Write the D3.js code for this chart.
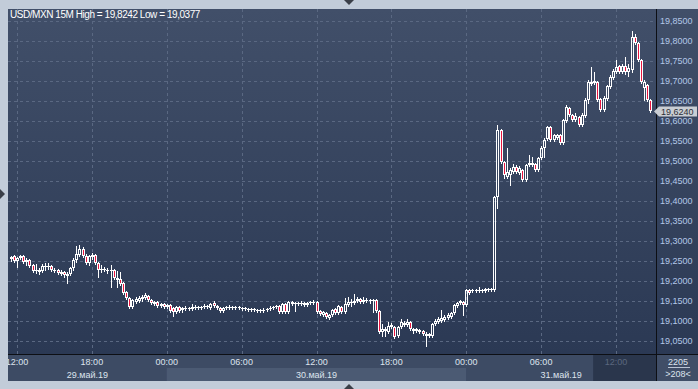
<!DOCTYPE html>
<html>
<head>
<meta charset="utf-8">
<script src="https://cdn.jsdelivr.net/npm/d3@7"></script>
<style>
    body { margin: 0; background: #c2ccd9; }
    svg { display: block; font-family: "Liberation Sans", Arial, sans-serif; }
</style>
</head>
<body>
<svg id="chart" width="698" height="389"></svg>
<script>
// 15 minute bars, first one at 29 May 2019 11:30
const startTime = new Date(2019, 4, 29, 11, 30);

const opens = [
    19.255, 19.2625, 19.25, 19.2575, 19.2625, 19.2475, 19.2525, 19.24, 19.225, 19.2225,
    19.225, 19.235, 19.235, 19.2375, 19.225, 19.2275, 19.2175, 19.2225, 19.2125, 19.2175,
    19.2325, 19.2525, 19.265, 19.28, 19.2625, 19.245, 19.26, 19.265, 19.245, 19.2275,
    19.2275, 19.225, 19.225, 19.2275, 19.2075, 19.205, 19.195, 19.1725, 19.1575, 19.135,
    19.1475, 19.15, 19.155, 19.1575, 19.1625, 19.1525, 19.1425, 19.1475, 19.1375, 19.1425,
    19.135, 19.14, 19.1325, 19.1225, 19.135, 19.1275, 19.13, 19.13, 19.13, 19.1325,
    19.1325, 19.1325, 19.135, 19.135, 19.1325, 19.145, 19.1375, 19.1325, 19.125, 19.1325,
    19.1325, 19.1325, 19.135, 19.1325, 19.1325, 19.13, 19.13, 19.1275, 19.1275, 19.1275,
    19.125, 19.125, 19.1275, 19.13, 19.1325, 19.135, 19.1375, 19.1225, 19.1425, 19.1225,
    19.1475, 19.1425, 19.1425, 19.1425, 19.145, 19.14, 19.145, 19.145, 19.1475, 19.125,
    19.115, 19.12, 19.1075, 19.115, 19.13, 19.12, 19.135, 19.1225, 19.14, 19.145,
    19.145, 19.15, 19.155, 19.1475, 19.15, 19.15, 19.15, 19.1525, 19.125, 19.0725,
    19.075, 19.0725, 19.085, 19.085, 19.0625, 19.085, 19.09, 19.09, 19.0975, 19.075,
    19.075, 19.0725, 19.075, 19.0625, 19.0625, 19.0625, 19.0925, 19.0975, 19.1, 19.1025,
    19.1075, 19.11, 19.12, 19.1375, 19.145, 19.1475, 19.14, 19.1775, 19.175, 19.175,
    19.175, 19.175, 19.175, 19.1775, 19.1775, 19.1775, 19.41, 19.5775, 19.4975, 19.46,
    19.465, 19.4725, 19.485, 19.47, 19.4775, 19.4525, 19.49, 19.49, 19.4925, 19.4775,
    19.5075, 19.5325, 19.555, 19.585, 19.5525, 19.5575, 19.565, 19.545, 19.6, 19.6325,
    19.615, 19.6025, 19.61, 19.59, 19.6125, 19.6525, 19.6925, 19.695, 19.6975, 19.655,
    19.6275, 19.655, 19.685, 19.7075, 19.7225, 19.7375, 19.7225, 19.7375, 19.7225, 19.7275,
    19.81, 19.795, 19.7525, 19.6825, 19.69, 19.6525
];

const highs = [
    19.2625, 19.265, 19.26, 19.265, 19.265, 19.2575, 19.255, 19.2425, 19.2425, 19.2325,
    19.2425, 19.245, 19.245, 19.24, 19.2325, 19.23, 19.2275, 19.225, 19.2225, 19.235,
    19.2575, 19.2875, 19.29, 19.285, 19.2675, 19.265, 19.27, 19.2675, 19.2475, 19.24,
    19.235, 19.2325, 19.24, 19.23, 19.225, 19.2225, 19.1975, 19.175, 19.16, 19.155,
    19.16, 19.1625, 19.165, 19.17, 19.165, 19.155, 19.15, 19.15, 19.145, 19.145,
    19.1425, 19.1425, 19.135, 19.1375, 19.1375, 19.135, 19.1375, 19.135, 19.1425, 19.14,
    19.1375, 19.1375, 19.1425, 19.14, 19.145, 19.15, 19.14, 19.135, 19.135, 19.1375,
    19.14, 19.1375, 19.1375, 19.1375, 19.135, 19.135, 19.1325, 19.1325, 19.1325, 19.13,
    19.13, 19.1325, 19.1325, 19.1375, 19.1375, 19.14, 19.14, 19.145, 19.145, 19.15,
    19.15, 19.1475, 19.1475, 19.15, 19.1475, 19.1475, 19.15, 19.1525, 19.15, 19.1275,
    19.125, 19.1225, 19.1175, 19.13, 19.1325, 19.14, 19.1375, 19.1575, 19.16, 19.155,
    19.1675, 19.16, 19.1575, 19.16, 19.1575, 19.155, 19.155, 19.155, 19.1275, 19.0925,
    19.085, 19.0975, 19.095, 19.0875, 19.0875, 19.105, 19.1, 19.105, 19.1, 19.0825,
    19.0825, 19.08, 19.0775, 19.0725, 19.07, 19.095, 19.105, 19.11, 19.1275, 19.115,
    19.12, 19.1225, 19.1425, 19.1475, 19.1525, 19.15, 19.18, 19.18, 19.18, 19.18,
    19.185, 19.18, 19.1825, 19.1825, 19.1825, 19.4125, 19.59, 19.58, 19.5, 19.5325,
    19.4825, 19.4925, 19.49, 19.4875, 19.48, 19.4925, 19.515, 19.51, 19.495, 19.51,
    19.5375, 19.5575, 19.5875, 19.5875, 19.5675, 19.5675, 19.5675, 19.605, 19.64, 19.635,
    19.6175, 19.62, 19.6125, 19.62, 19.6575, 19.7025, 19.735, 19.7225, 19.7, 19.6575,
    19.6625, 19.69, 19.715, 19.73, 19.7525, 19.74, 19.7425, 19.76, 19.7425, 19.8242,
    19.8175, 19.7975, 19.755, 19.7025, 19.6925, 19.655
];

const lows = [
    19.25, 19.2475, 19.235, 19.255, 19.245, 19.24, 19.235, 19.2225, 19.22, 19.2175,
    19.2225, 19.2275, 19.23, 19.225, 19.2225, 19.2175, 19.215, 19.21, 19.195, 19.215,
    19.2275, 19.2475, 19.2625, 19.26, 19.2425, 19.24, 19.255, 19.2425, 19.21, 19.2225,
    19.225, 19.22, 19.185, 19.205, 19.185, 19.19, 19.1675, 19.155, 19.1325, 19.1325,
    19.145, 19.1475, 19.15, 19.155, 19.15, 19.1425, 19.14, 19.135, 19.135, 19.1325,
    19.1325, 19.1225, 19.1125, 19.12, 19.1225, 19.1225, 19.1275, 19.1275, 19.1275, 19.13,
    19.13, 19.13, 19.1325, 19.1325, 19.13, 19.135, 19.13, 19.1225, 19.1225, 19.13,
    19.13, 19.13, 19.13, 19.13, 19.1275, 19.1275, 19.125, 19.125, 19.125, 19.1225,
    19.1225, 19.1225, 19.125, 19.1275, 19.13, 19.1325, 19.12, 19.12, 19.12, 19.12,
    19.14, 19.125, 19.14, 19.14, 19.1375, 19.1375, 19.1425, 19.1425, 19.12, 19.115,
    19.1125, 19.1075, 19.105, 19.1125, 19.1175, 19.1175, 19.12, 19.12, 19.1375, 19.1375,
    19.1425, 19.1475, 19.145, 19.145, 19.1475, 19.145, 19.1225, 19.1225, 19.07, 19.0625,
    19.0625, 19.07, 19.0825, 19.0575, 19.06, 19.0825, 19.0875, 19.0875, 19.0775, 19.07,
    19.0725, 19.07, 19.065, 19.0377, 19.06, 19.06, 19.09, 19.095, 19.0975, 19.1,
    19.105, 19.1075, 19.1175, 19.135, 19.1425, 19.115, 19.1375, 19.1675, 19.1725, 19.1725,
    19.1725, 19.1725, 19.1725, 19.175, 19.175, 19.175, 19.3825, 19.495, 19.4575, 19.4575,
    19.44, 19.47, 19.47, 19.4675, 19.45, 19.45, 19.4875, 19.4875, 19.475, 19.475,
    19.505, 19.51, 19.5525, 19.55, 19.55, 19.555, 19.5425, 19.5425, 19.5975, 19.6125,
    19.6, 19.6, 19.5875, 19.5875, 19.61, 19.645, 19.69, 19.6925, 19.65, 19.625,
    19.625, 19.6525, 19.6825, 19.705, 19.72, 19.72, 19.72, 19.7175, 19.7125, 19.7225,
    19.7925, 19.75, 19.695, 19.6525, 19.65, 19.6225
];

const closes = [
    19.26, 19.25, 19.2575, 19.2625, 19.2475, 19.2525, 19.2375, 19.225, 19.2275, 19.2275,
    19.2375, 19.2375, 19.2375, 19.2275, 19.2275, 19.22, 19.2225, 19.215, 19.2175, 19.2325,
    19.2525, 19.2675, 19.28, 19.2625, 19.245, 19.2625, 19.265, 19.245, 19.2275, 19.23,
    19.23, 19.2275, 19.2275, 19.2075, 19.2025, 19.1925, 19.17, 19.1575, 19.135, 19.1525,
    19.155, 19.1575, 19.16, 19.165, 19.1525, 19.145, 19.1475, 19.1375, 19.1425, 19.135,
    19.14, 19.125, 19.1225, 19.135, 19.125, 19.1325, 19.1325, 19.1325, 19.135, 19.135,
    19.135, 19.135, 19.1375, 19.1375, 19.1425, 19.1375, 19.1325, 19.125, 19.1325, 19.135,
    19.135, 19.135, 19.1325, 19.135, 19.13, 19.1325, 19.1275, 19.13, 19.13, 19.125,
    19.1275, 19.1275, 19.13, 19.1325, 19.135, 19.1375, 19.1225, 19.1425, 19.1225, 19.1475,
    19.1425, 19.145, 19.145, 19.145, 19.14, 19.145, 19.1475, 19.1475, 19.1225, 19.1175,
    19.1225, 19.11, 19.115, 19.1275, 19.12, 19.1375, 19.1225, 19.1425, 19.1475, 19.1475,
    19.15, 19.155, 19.1475, 19.1525, 19.1525, 19.1525, 19.1525, 19.125, 19.0725, 19.08,
    19.08, 19.0875, 19.09, 19.06, 19.085, 19.0975, 19.095, 19.0975, 19.08, 19.08,
    19.08, 19.0775, 19.0675, 19.0675, 19.0675, 19.0925, 19.1, 19.105, 19.1075, 19.11,
    19.115, 19.12, 19.14, 19.145, 19.15, 19.14, 19.1775, 19.17, 19.1775, 19.1775,
    19.1775, 19.1775, 19.18, 19.18, 19.18, 19.41, 19.5775, 19.4975, 19.465, 19.4725,
    19.4775, 19.485, 19.4725, 19.4825, 19.4525, 19.49, 19.495, 19.495, 19.4775, 19.5075,
    19.5325, 19.5525, 19.585, 19.5525, 19.565, 19.565, 19.545, 19.6025, 19.635, 19.615,
    19.6025, 19.6125, 19.59, 19.615, 19.6525, 19.6975, 19.6975, 19.7, 19.6525, 19.6275,
    19.6575, 19.6875, 19.71, 19.725, 19.735, 19.7225, 19.7375, 19.7225, 19.7325, 19.81,
    19.795, 19.7525, 19.6975, 19.6975, 19.6525, 19.624
];

const priceTicks = [19.05, 19.10, 19.15, 19.20, 19.25, 19.30, 19.35, 19.40, 19.45,
                    19.50, 19.55, 19.60, 19.65, 19.70, 19.75, 19.80, 19.85];
const days = [new Date(2019, 4, 29), new Date(2019, 4, 30), new Date(2019, 4, 31), new Date(2019, 5, 1)];
const dayLabels = ["29.май.19", "30.май.19", "31.май.19"];
const title = "USD/MXN 15M High = 19,8242 Low = 19,0377";
const lastPrice = 19.6240;
const bottomInfo = ["2205", ">208<"];
const liveStart = new Date(2019, 4, 31, 10, 10);

const svg = d3.select("#chart");
const width = +svg.attr("width");
const height = +svg.attr("height");
const plot = { left: 8, right: 656, top: 9, bottom: 354 };
const axisBottom = 381;

const ru = d3.formatLocale({ decimal: ",", thousands: " ", grouping: [3], currency: ["", ""] });
const fmtPrice = ru.format(".4f");
const fmtHour = d3.timeFormat("%H:%M");

const x = d3.scaleTime()
    .domain([new Date(2019, 4, 29, 12), new Date(2019, 4, 31, 12)])
    .range([17, 616]);

const y = d3.scaleLinear()
    .domain([19.05, 19.85])
    .range([341, 21]);

// backgrounds
const defs = svg.append("defs");
const grad = defs.append("linearGradient")
    .attr("id", "bg")
    .attr("x1", 0).attr("y1", 0).attr("x2", 0).attr("y2", 1);
grad.append("stop").attr("offset", "0%").attr("stop-color", "#414f69");
grad.append("stop").attr("offset", "100%").attr("stop-color", "#2b3954");

defs.append("clipPath").attr("id", "clip")
    .append("rect")
    .attr("x", plot.left).attr("y", plot.top)
    .attr("width", plot.right - plot.left).attr("height", plot.bottom - plot.top);

defs.append("clipPath").attr("id", "clipAxis")
    .append("rect")
    .attr("x", plot.left).attr("y", plot.bottom)
    .attr("width", plot.right - plot.left).attr("height", axisBottom - plot.bottom);

svg.append("rect")
    .attr("width", width).attr("height", height)
    .attr("fill", "#c2ccd9");

svg.append("rect")
    .attr("x", plot.left).attr("y", plot.top)
    .attr("width", width - plot.left).attr("height", plot.bottom - plot.top)
    .attr("fill", "url(#bg)");

// time axis bands
const xAxisG = svg.append("g").attr("clip-path", "url(#clipAxis)");
xAxisG.append("rect")
    .attr("x", plot.left).attr("y", plot.bottom)
    .attr("width", plot.right - plot.left).attr("height", axisBottom - plot.bottom)
    .attr("fill", "#3d4b64");

xAxisG.selectAll(".day-band")
    .data(dayLabels)
    .join("rect")
    .attr("class", "day-band")
    .attr("x", (d, i) => x(days[i]))
    .attr("y", 368)
    .attr("width", (d, i) => x(days[i + 1]) - x(days[i]))
    .attr("height", axisBottom - 368)
    .attr("fill", (d, i) => i % 2 ? "#4b5a73" : "#3d4b64");

xAxisG.append("rect")
    .attr("x", x(liveStart)).attr("y", plot.bottom)
    .attr("width", plot.right - x(liveStart)).attr("height", axisBottom - plot.bottom)
    .attr("fill", "#2a364c");

const timeTicks = d3.timeHour.every(6).range(x.invert(0), x.invert(plot.right));

xAxisG.selectAll(".hour")
    .data(timeTicks)
    .join("text")
    .attr("class", "hour")
    .attr("x", d => x(d))
    .attr("y", 365)
    .attr("text-anchor", "middle")
    .attr("font-size", "9px")
    .attr("fill", d => d >= liveStart ? "#5a677e" : "#dde4ee")
    .text(d => fmtHour(d));

xAxisG.selectAll(".day")
    .data(dayLabels)
    .join("text")
    .attr("class", "day")
    .attr("x", (d, i) => (Math.max(x(days[i]), plot.left) + Math.min(x(days[i + 1]), plot.right)) / 2)
    .attr("y", 378)
    .attr("text-anchor", "middle")
    .attr("font-size", "9px")
    .attr("fill", "#dde4ee")
    .text(d => d);

// right bottom info box
svg.append("rect")
    .attr("x", plot.right).attr("y", plot.bottom)
    .attr("width", width - plot.right).attr("height", axisBottom - plot.bottom)
    .attr("fill", "#404e67");
svg.append("line")
    .attr("x1", 668).attr("x2", 690)
    .attr("y1", 367.5).attr("y2", 367.5)
    .attr("stroke", "#b9c4d4");
svg.selectAll(".info")
    .data(bottomInfo)
    .join("text")
    .attr("class", "info")
    .attr("x", 678)
    .attr("y", (d, i) => 365 + i * 12)
    .attr("text-anchor", "middle")
    .attr("font-size", "9px")
    .attr("fill", "#dde4ee")
    .text(d => d);

// grid
const grid = svg.append("g").attr("clip-path", "url(#clip)");
grid.selectAll(".hgrid")
    .data(priceTicks)
    .join("line")
    .attr("x1", plot.left).attr("x2", plot.right)
    .attr("y1", d => Math.round(y(d)) + 0.5)
    .attr("y2", d => Math.round(y(d)) + 0.5)
    .attr("stroke", "#5a6882")
    .attr("stroke-dasharray", "3,3");
grid.selectAll(".vgrid")
    .data(timeTicks)
    .join("line")
    .attr("x1", d => Math.round(x(d)) + 0.5)
    .attr("x2", d => Math.round(x(d)) + 0.5)
    .attr("y1", plot.top).attr("y2", plot.bottom)
    .attr("stroke", "#5a6882")
    .attr("stroke-dasharray", "3,3");

// candles
const bars = closes.map((c, i) => ({
    t: d3.timeMinute.offset(startTime, 15 * i),
    o: opens[i], h: highs[i], l: lows[i], c: c
}));

const candles = svg.append("g").attr("clip-path", "url(#clip)");

bars.forEach(d => {
    const cx = Math.round(x(d.t));
    const yt = Math.round(y(Math.max(d.o, d.c)));
    const yb = Math.round(y(Math.min(d.o, d.c)));
    const yh = Math.round(y(d.h));
    const yl = Math.round(y(d.l));
    const g = candles.append("g");

    g.append("line")
        .attr("x1", cx + 0.5).attr("x2", cx + 0.5)
        .attr("y1", yh).attr("y2", yt + 1)
        .attr("stroke", "#ffffff");
    g.append("line")
        .attr("x1", cx + 0.5).attr("x2", cx + 0.5)
        .attr("y1", yb).attr("y2", yl + 1)
        .attr("stroke", "#ffffff");

    if (yb - yt >= 2) {
        g.append("rect")
            .attr("x", cx - 0.5).attr("y", yt + 0.5)
            .attr("width", 2).attr("height", yb - yt - 1)
            .attr("fill", d.c < d.o ? "#e8153f" : "none")
            .attr("stroke", "#ffffff");
    } else {
        g.append("rect")
            .attr("x", cx - 1).attr("y", yt)
            .attr("width", 3).attr("height", Math.max(1, yb - yt))
            .attr("fill", "#ffffff");
    }
});

// separators
svg.append("line")
    .attr("x1", plot.right + 0.5).attr("x2", plot.right + 0.5)
    .attr("y1", plot.top).attr("y2", axisBottom)
    .attr("stroke", "#0d0f14");
svg.append("line")
    .attr("x1", plot.left).attr("x2", width)
    .attr("y1", plot.bottom + 0.5).attr("y2", plot.bottom + 0.5)
    .attr("stroke", "#0d0f14");

// price axis
svg.selectAll(".price")
    .data(priceTicks)
    .join("text")
    .attr("class", "price")
    .attr("x", 660)
    .attr("y", d => y(d) + 3)
    .attr("font-size", "9px")
    .attr("fill", "#b3c8e8")
    .text(d => fmtPrice(d));

// last price tag
const yl = Math.round(y(lastPrice));
svg.append("path")
    .attr("d", `M654,${yl + 0.5} L659,${yl - 4.5} L697,${yl - 4.5} L697,${yl + 5.5} L659,${yl + 5.5} Z`)
    .attr("fill", "#c9cdd3");
svg.append("text")
    .attr("x", 661)
    .attr("y", yl + 4)
    .attr("font-size", "9px")
    .attr("fill", "#2b2f36")
    .text(fmtPrice(lastPrice));

// title
svg.append("text")
    .attr("x", 10)
    .attr("y", 18)
    .attr("font-size", "10px")
    .attr("letter-spacing", "-0.45px")
    .attr("fill", "#ffffff")
    .text(title);

// scroll arrows
svg.append("path").attr("d", "M344,0 L354,0 L349,5 Z").attr("fill", "#3a3f48");
svg.append("path").attr("d", "M344,389 L354,389 L349,384 Z").attr("fill", "#3a3f48");
svg.append("path").attr("d", "M0,189 L0,199 L5,194 Z").attr("fill", "#3a3f48");
</script>
</body>
</html>
